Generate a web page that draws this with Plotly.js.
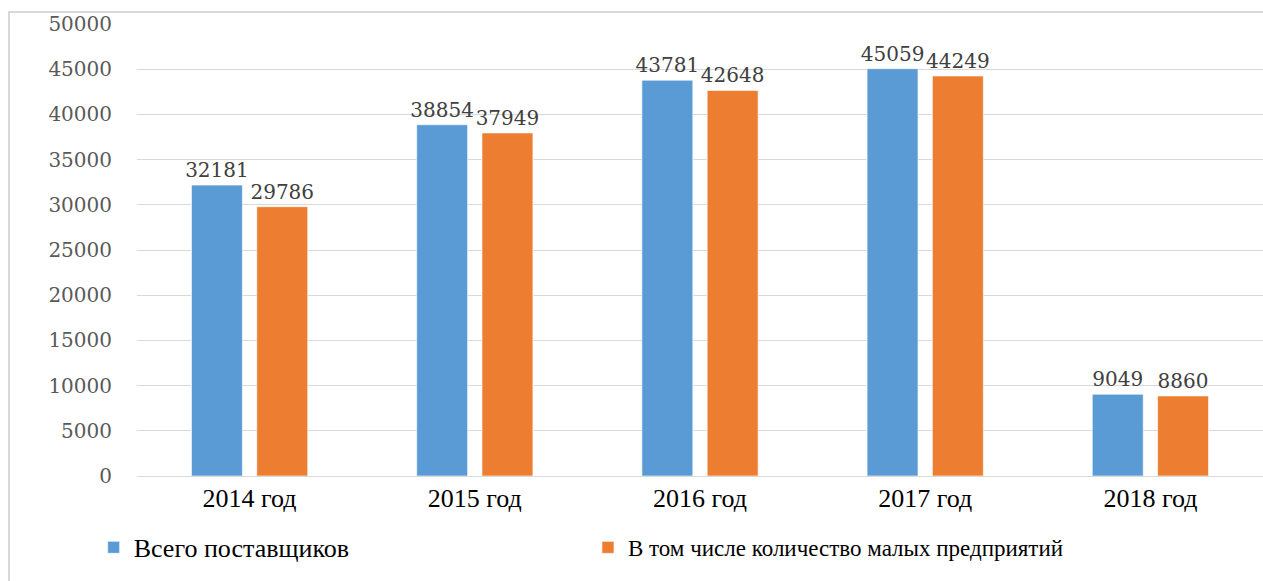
<!DOCTYPE html>
<html>
<head>
<meta charset="utf-8">
<script src="https://cdn.plot.ly/plotly-3.0.1.min.js"></script>
<style>
  html, body { margin: 0; padding: 0; background: #fff; overflow: hidden; }
  #chart { width: 1263px; height: 581px; }
  #frame { position: absolute; left: 8px; top: 11px; width: 1300px; height: 620px;
           border: 2px solid #d9d9d9; pointer-events: none; box-sizing: border-box; }
</style>
</head>
<body>
<div id="chart"></div>
<div id="frame"></div>
<script>
const categories = ["2014 год", "2015 год", "2016 год", "2017 год", "2018 год"];
const seriesNames = ["Всего поставщиков", "В том числе количество малых предприятий"];
const totalSuppliers = [32181, 38854, 43781, 45059, 9049];
const smallEnterprises = [29786, 37949, 42648, 44249, 8860];
const yTicks = [0, 5000, 10000, 15000, 20000, 25000, 30000, 35000, 40000, 45000, 50000];

const serif = "'Liberation Serif', 'Times New Roman', serif";
const wideSerif = "'DejaVu Serif', serif";
const labelFont = { family: wideSerif, size: 20, color: "#404040" };

const traces = [
  {
    type: "bar", name: seriesNames[0], x: categories, y: totalSuppliers, legend: "legend",
    marker: { color: "#5B9BD5", line: { color: "rgba(255,255,255,0.6)", width: 1 } },
    text: totalSuppliers.map(String), textposition: "outside", textfont: labelFont,
    constraintext: "none", cliponaxis: false, hoverinfo: "x+y"
  },
  {
    type: "bar", name: seriesNames[1], x: categories, y: smallEnterprises, legend: "legend2",
    marker: { color: "#ED7D31", line: { color: "rgba(255,255,255,0.6)", width: 1 } },
    text: smallEnterprises.map(String), textposition: "outside", textfont: labelFont,
    constraintext: "none", cliponaxis: false, hoverinfo: "x+y"
  }
];

const layout = {
  width: 1263, height: 581,
  margin: { l: 137, r: 0, t: 24, b: 105 },
  paper_bgcolor: "#ffffff", plot_bgcolor: "#ffffff",
  barmode: "group", bargap: 0.42, bargroupgap: 0.22,
  showlegend: true,
  legend: {
    orientation: "h", x: -0.0385, xanchor: "left", y: -0.158, yanchor: "middle",
    font: { family: serif, size: 26, color: "#000000" }
  },
  legend2: {
    orientation: "h", x: 0.4005, xanchor: "left", y: -0.158, yanchor: "middle",
    font: { family: serif, size: 23, color: "#000000" }
  },
  xaxis: {
    type: "category", showgrid: false, showline: false, zeroline: false, ticks: "",
    ticklabelstandoff: 4,
    tickfont: { family: serif, size: 26, color: "#000000" }
  },
  yaxis: {
    range: [0, 50000], tickvals: yTicks, ticktext: yTicks.map(String),
    showgrid: true, gridcolor: "#d9d9d9", gridwidth: 1,
    zeroline: true, zerolinecolor: "#d9d9d9", zerolinewidth: 1,
    showline: false, ticks: "", ticklabelstandoff: 24,
    tickfont: { family: wideSerif, size: 20, color: "#595959" }
  }
};

Plotly.newPlot("chart", traces, layout, { displayModeBar: false, staticPlot: true });
</script>
</body>
</html>
